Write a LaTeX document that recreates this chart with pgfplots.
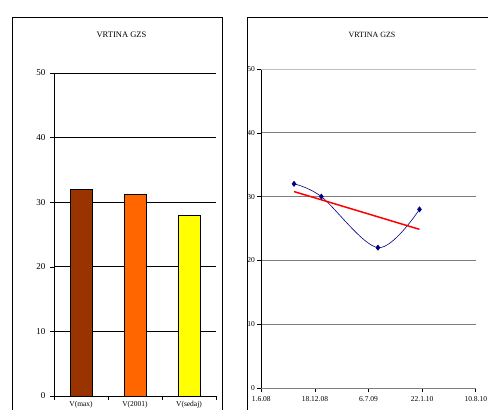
\documentclass[border=0pt]{standalone}
\usepackage{pgfplots}
\pgfplotsset{compat=1.18}
\usepackage{fontspec}
\setmainfont{Liberation Serif}
\definecolor{cbrown}{HTML}{993300}
\definecolor{corange}{HTML}{FF6600}
\definecolor{cyellow}{HTML}{FFFF00}
\definecolor{cnavy}{HTML}{000080}
\begin{document}
\begin{tikzpicture}
\useasboundingbox (0pt,0pt) rectangle (488pt,-410pt);
\clip (0pt,0pt) rectangle (488pt,-410pt);
\draw[black, line width=0.9pt] (12pt,-440pt) -- (12pt,-17pt) -- (222pt,-17pt) -- (222pt,-440pt);
\draw[black, line width=0.9pt] (247pt,-440pt) -- (247pt,-17pt) -- (500pt,-17pt);
\node[font=\fontsize{8.5}{10}\selectfont] at (121.5pt,-35pt) {VRTINA GZS};
\node[font=\fontsize{8}{10}\selectfont] at (372pt,-35pt) {VRTINA GZS};
\begin{axis}[at={(54pt,-396pt)}, anchor=south west, scale only axis,
  width=162pt, height=323pt,
  xmin=-0.5, xmax=2.5, ymin=0, ymax=50,
  ytick={0,10,...,50},
  xtick={-0.5,0.5,1.5,2.5},
  x tick label as interval,
  xticklabels={V(max),V(2001),V(sedaj)},
  axis x line*=bottom, axis y line*=left,
  axis line style={black, line width=0.6pt, -},
  tick align=outside, major tick length=4pt,
  tick style={black, line width=0.6pt},
  ymajorgrids, grid style={black, line width=0.7pt},
  /pgf/number format/assume math mode=true,
  yticklabel style={font=\fontsize{9}{10}\selectfont, xshift=-1pt},
  xticklabel style={font=\fontsize{7.5}{8}\selectfont, yshift=2.5pt},
]
\addplot[ybar, bar shift=0pt, bar width=21.7pt, fill=cbrown, draw=black, line width=0.6pt] coordinates {(0,32)};
\addplot[ybar, bar shift=0pt, bar width=21.7pt, fill=corange, draw=black, line width=0.6pt] coordinates {(1,31.3)};
\addplot[ybar, bar shift=0pt, bar width=21.7pt, fill=cyellow, draw=black, line width=0.6pt] coordinates {(2,28)};
\end{axis}
\begin{axis}[at={(261.3pt,-388pt)}, anchor=south west, scale only axis,
  width=214.5pt, height=319pt,
  xmin=0, xmax=800, ymin=0, ymax=50,
  ytick={0,10,...,40},
  extra y ticks={50},
  extra y tick style={grid style={gray!50, line width=0.8pt}},
  xtick={0,200,...,800},
  xticklabels={1.6.08,18.12.08,6.7.09,22.1.10,10.8.10},
  axis x line*=bottom, axis y line*=left,
  x axis line style={gray, line width=0.7pt, -},
  y axis line style={black, line width=0.7pt, -},
  tick align=outside, major tick length=4pt,
  tick style={black, line width=0.6pt},
  ymajorgrids, grid style={gray, line width=0.8pt},
  /pgf/number format/assume math mode=true,
  tick label style={font=\fontsize{7.5}{9}\selectfont},
  yticklabel style={xshift=1pt},
  xticklabel style={yshift=-1pt},
]
\addplot[cnavy, line width=0.6pt, smooth, tension=0.55, mark=diamond*, mark size=2.6pt, mark options={fill=cnavy, draw=cnavy}] coordinates {(122,32) (224,30) (435,22) (590,28)};
\addplot[red, line width=1.5pt] coordinates {(122,30.79) (590,24.87)};
\end{axis}
\end{tikzpicture}
\end{document}
